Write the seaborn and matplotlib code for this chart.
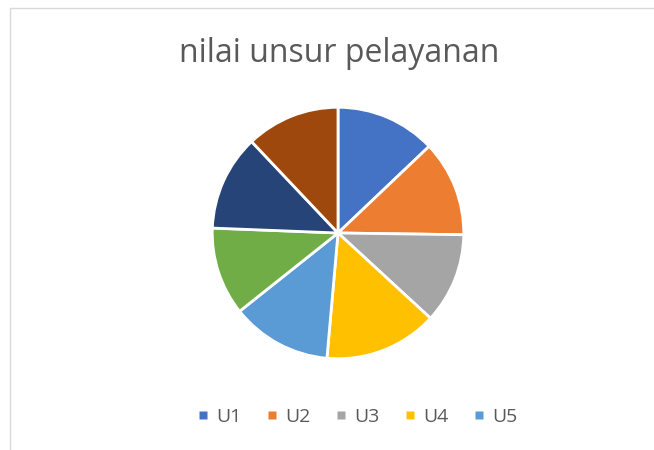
import matplotlib
matplotlib.use("Agg")
import matplotlib.pyplot as plt
from matplotlib.lines import Line2D
import seaborn as sns

# data (slice sizes estimated from angles)
labels = ["U1", "U2", "U3", "U4", "U5", "U6", "U7", "U8"]
values = [3.35, 3.20, 3.02, 3.78, 3.35, 2.94, 3.20, 3.13]
legend_shown = ["U1", "U2", "U3", "U4", "U5"]

sns.set_style("white")
plt.rcParams["font.family"] = ["Open Sans", "DejaVu Sans"]

colors = sns.color_palette(["#4472C4", "#ED7D31", "#A5A5A5", "#FFC000",
                            "#5B9BD5", "#70AD47", "#264478", "#9E480E"])

fig = plt.figure(figsize=(6.54, 4.5), dpi=100)
W, H = 654, 450

# chart frame (only top and left edges visible)
fig.add_artist(Line2D([10 / W, 10 / W], [0, 1 - 8 / H], color="#D9D9D9", lw=1))
fig.add_artist(Line2D([10 / W, 1], [1 - 8 / H, 1 - 8 / H], color="#D9D9D9", lw=1))

cx, cy, r = 338, 233, 127
ax = fig.add_axes([(cx - r) / W, (H - cy - r) / H, 2 * r / W, 2 * r / H])
ax.pie(values, colors=colors, startangle=90, counterclock=False,
       wedgeprops=dict(edgecolor="white", linewidth=2))
ax.set_xlim(-1.01, 1.01)
ax.set_ylim(-1.01, 1.01)
ax.set_aspect("equal")
ax.axis("off")

fig.text(339 / W, 1 - 53 / H, "nilai unsur pelayanan", ha="center", va="center",
         fontsize=23, color="#595959")

handles = [Line2D([], [], marker="s", linestyle="", markersize=6,
                  markerfacecolor=colors[labels.index(l)], markeredgecolor="none")
           for l in legend_shown]
fig.legend(handles, legend_shown, loc="center", bbox_to_anchor=(358 / W, 1 - 417 / H),
           ncol=5, frameon=False, fontsize=14, handletextpad=0.45, columnspacing=1.3,
           labelcolor="#595959", handlelength=0.5)

fig.savefig("out.png", dpi=100)
